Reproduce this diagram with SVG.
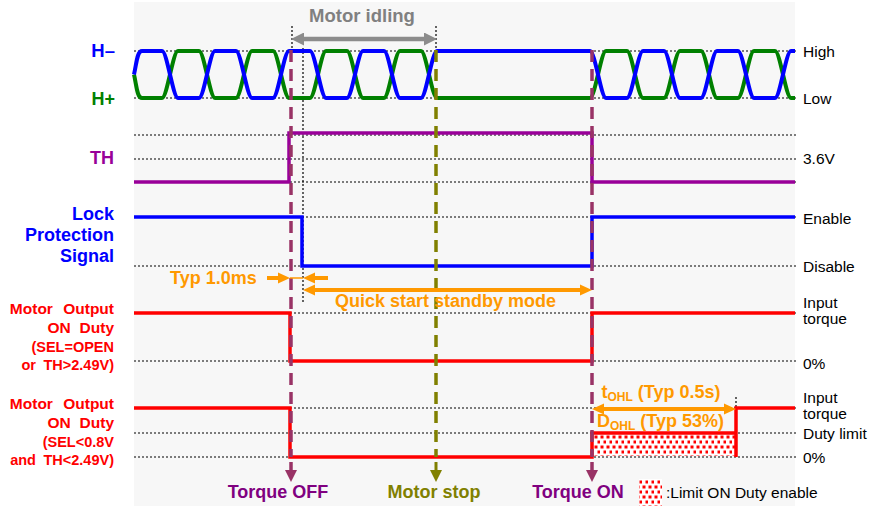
<svg xmlns="http://www.w3.org/2000/svg" width="869" height="506" viewBox="0 0 869 506">
<style>
.dot{stroke:#000;stroke-width:1.2;stroke-dasharray:2 2;fill:none}
.sig{fill:none;stroke-width:3.5;stroke-linejoin:miter}
.wave{fill:none;stroke-width:4;stroke-linejoin:round}
.vd{fill:none;stroke-width:3.5;stroke-dasharray:12 7}
.lb{font-family:"Liberation Sans",Arial,sans-serif;font-weight:bold}
.rl{font-family:"Liberation Sans",Arial,sans-serif;font-size:15.5px;fill:#000}
.or{stroke:#ff9900;stroke-width:4;fill:none}
</style>
<defs>
<marker id="ao" viewBox="0 0 12 12" refX="6" refY="6" markerWidth="12" markerHeight="12" markerUnits="userSpaceOnUse" orient="auto-start-reverse"><path d="M0,0.5 L12,6 L0,11.5 z" fill="#ff9900"/></marker>
<marker id="ag" viewBox="0 0 13 13" refX="6" refY="6.5" markerWidth="13" markerHeight="13" markerUnits="userSpaceOnUse" orient="auto-start-reverse"><path d="M0,0 L13,6.5 L0,13 z" fill="#8c8c8c"/></marker>
<pattern id="hatch" width="6" height="10" patternUnits="userSpaceOnUse" x="594" y="435">
<rect width="6" height="10" fill="#fff"/>
<rect x="0.5" y="0.5" width="3" height="3" fill="#ff0000"/>
<rect x="3.5" y="5.5" width="3" height="3" fill="#ff0000"/>
</pattern>
</defs>
<rect x="134" y="2" width="661" height="504" fill="#f7f7f7"/>
<g id="grid">
<line class="dot" x1="134" y1="51" x2="797" y2="51"/>
<line class="dot" x1="134" y1="98" x2="797" y2="98"/>
<line class="dot" x1="134" y1="135" x2="797" y2="135"/>
<line class="dot" x1="134" y1="159" x2="797" y2="159"/>
<line class="dot" x1="134" y1="182" x2="797" y2="182"/>
<line class="dot" x1="134" y1="217" x2="797" y2="217"/>
<line class="dot" x1="134" y1="266" x2="797" y2="266"/>
<line class="dot" x1="134" y1="313" x2="797" y2="313"/>
<line class="dot" x1="134" y1="361" x2="797" y2="361"/>
<line class="dot" x1="134" y1="408" x2="797" y2="408"/>
<line class="dot" x1="134" y1="433" x2="797" y2="433"/>
<line class="dot" x1="134" y1="457" x2="797" y2="457"/>
<line class="dot" x1="292" y1="26" x2="292" y2="51"/>
<line class="dot" x1="436" y1="26" x2="436" y2="51"/>
<line class="dot" x1="303" y1="48" x2="303" y2="302"/>
<line class="dot" x1="736" y1="397" x2="736" y2="409"/>
</g>
<g id="hall">
<path class="wave" stroke="#008000" d="M134,74.5 C136.5,85 137,98 142,98 L162,98 C167,98 173,51 178,51 L199,51 C204,51 210,98 215,98 L236,98 C241,98 247,51 252,51 L273,51 C278,51 284,98 289,98 L310,98 C315,98 321,51 326,51 L347,51 C352,51 358,98 363,98 L384,98 C389,98 395,51 400,51 L421,51 C426,51 432,98 437,98 L590,98 C595,98 601,51 606,51 L627,51 C632,51 638,98 643,98 L664,98 C669,98 675,51 680,51 L701,51 C706,51 712,98 717,98 L738,98 C743,98 749,51 754,51 L775,51 C780,51 786,98 791,98 L795,98"/>
<path class="wave" stroke="#0000ff" d="M134,74.5 C136.5,64 137,51 142,51 L162,51 C167,51 173,98 178,98 L199,98 C204,98 210,51 215,51 L236,51 C241,51 247,98 252,98 L273,98 C278,98 284,51 289,51 L310,51 C315,51 321,98 326,98 L347,98 C352,98 358,51 363,51 L384,51 C389,51 395,98 400,98 L421,98 C426,98 432,51 437,51 L590,51 C595,51 601,98 606,98 L627,98 C632,98 638,51 643,51 L664,51 C669,51 675,98 680,98 L701,98 C706,98 712,51 717,51 L738,51 C743,51 749,98 754,98 L775,98 C780,98 786,51 791,51 L795,51"/>
</g>
<g id="th">
<polyline class="sig" stroke="#990099" points="134,182 289,182 289,133 592,133 592,182 795,182"/>
</g>
<g id="lock">
<polyline class="sig" stroke="#0000ff" points="134,217 302,217 302,266 592,266 592,217 795,217"/>
</g>
<g id="motor1">
<polyline class="sig" stroke="#ff0000" points="134,313 290,313 290,361 592,361 592,313 795,313"/>
</g>
<g id="motor2">
<rect x="594" y="435" width="141" height="21" fill="url(#hatch)"/>
<polyline class="sig" stroke="#ff0000" points="134,408 290,408 290,457 592,457 592,433 736,433"/>
<polyline class="sig" stroke="#ff0000" points="736,457 736,408 795,408"/>
</g>
<g id="connectors">
<line class="vd" stroke="#993366" x1="291" y1="50" x2="291" y2="457"/>
<line class="vd" stroke="#993366" x1="592" y1="50" x2="592" y2="457"/>
<line class="vd" stroke="#808000" stroke-width="3" x1="436" y1="50" x2="436" y2="457"/>
<line x1="291" y1="462" x2="291" y2="471" stroke="#993366" stroke-width="3.5"/>
<polygon points="285,470 297,470 291,482" fill="#993366"/>
<line x1="436" y1="462" x2="436" y2="471" stroke="#808000" stroke-width="3"/>
<polygon points="430,470 442,470 436,482" fill="#808000"/>
<line x1="592" y1="462" x2="592" y2="471" stroke="#993366" stroke-width="3.5"/>
<polygon points="586,470 598,470 592,482" fill="#993366"/>
<line x1="298" y1="39" x2="430" y2="39" stroke="#8c8c8c" stroke-width="4.5" marker-start="url(#ag)" marker-end="url(#ag)"/>
<line class="or" x1="267" y1="278" x2="284" y2="278" marker-end="url(#ao)"/>
<line x1="290" y1="278" x2="303" y2="278" stroke="#ff9900" stroke-width="1.5"/>
<line class="or" x1="328" y1="278" x2="309" y2="278" marker-end="url(#ao)"/>
<line class="or" x1="309" y1="290" x2="586" y2="290" marker-start="url(#ao)" marker-end="url(#ao)"/>
<line class="or" x1="598" y1="409" x2="730" y2="409" marker-start="url(#ao)" marker-end="url(#ao)"/>
</g>
<g id="labels-left" class="lb" text-anchor="end">
<text x="115" y="57" font-size="18.5" fill="#0000ff">H–</text>
<text x="115" y="105" font-size="18" fill="#008000">H+</text>
<text x="114" y="164" font-size="18" fill="#990099">TH</text>
<text x="114" y="220" font-size="18" fill="#0000ff">Lock</text>
<text x="114" y="241" font-size="18" fill="#0000ff">Protection</text>
<text x="114" y="262" font-size="18" fill="#0000ff">Signal</text>
<text x="114" y="314" font-size="15.5" fill="#ff0000" word-spacing="6">Motor Output</text>
<text x="114" y="333" font-size="15.5" fill="#ff0000" word-spacing="4.5">ON Duty</text>
<text x="114" y="352" font-size="14.5" fill="#ff0000">(SEL=OPEN</text>
<text x="114" y="370" font-size="14.5" fill="#ff0000" word-spacing="3.5">or TH&gt;2.49V)</text>
<text x="114" y="409" font-size="15.5" fill="#ff0000" word-spacing="6">Motor Output</text>
<text x="114" y="428" font-size="15.5" fill="#ff0000" word-spacing="4.5">ON Duty</text>
<text x="114" y="447" font-size="14.5" fill="#ff0000">(SEL&lt;0.8V</text>
<text x="114" y="465" font-size="14.5" fill="#ff0000" word-spacing="3.5">and TH&lt;2.49V)</text>
</g>
<g id="labels-right" class="rl">
<text x="803" y="57">High</text>
<text x="803" y="104">Low</text>
<text x="803" y="164">3.6V</text>
<text x="803" y="224">Enable</text>
<text x="803" y="272">Disable</text>
<text x="803" y="308">Input</text>
<text x="803" y="324">torque</text>
<text x="803" y="369">0%</text>
<text x="803" y="403">Input</text>
<text x="803" y="419">torque</text>
<text x="803" y="439">Duty limit</text>
<text x="803" y="463">0%</text>
</g>
<g id="annotations" class="lb">
<text x="362" y="22" font-size="18.5" fill="#808080" text-anchor="middle">Motor idling</text>
<text x="170" y="284" font-size="18" fill="#ff9900">Typ 1.0ms</text>
<text x="445.5" y="307" font-size="18" fill="#ff9900" text-anchor="middle">Quick start standby mode</text>
<text x="601.5" y="398" font-size="18" fill="#ff9900">t<tspan font-size="12" dy="3">OHL</tspan><tspan dy="-3"> (Typ 0.5s)</tspan></text>
<text x="597" y="427" font-size="18" fill="#ff9900">D<tspan font-size="12" dy="3">OHL</tspan><tspan dy="-3"> (Typ 53%)</tspan></text>
<text x="278" y="498" font-size="18" fill="#800080" text-anchor="middle">Torque OFF</text>
<text x="434" y="498" font-size="18" fill="#808000" text-anchor="middle">Motor stop</text>
<text x="578" y="498" font-size="18" fill="#800080" text-anchor="middle">Torque ON</text>
</g>
<g id="legend">
<rect x="639" y="479" width="23" height="27" fill="url(#hatch)"/>
<text class="rl" x="666" y="498">:Limit ON Duty enable</text>
</g>
</svg>
